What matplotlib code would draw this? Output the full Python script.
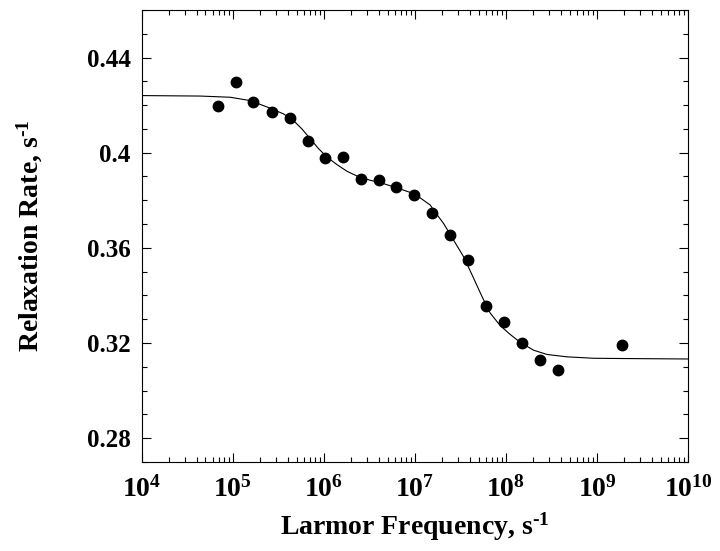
import matplotlib
matplotlib.use('Agg')
import matplotlib.pyplot as plt
from matplotlib.ticker import MultipleLocator, LogLocator, LogFormatterMathtext, FormatStrFormatter

plt.rcParams['font.family'] = 'Liberation Serif'
plt.rcParams['font.weight'] = 'bold'
plt.rcParams['mathtext.fontset'] = 'custom'
plt.rcParams['mathtext.rm'] = 'Liberation Serif:bold'
plt.rcParams['mathtext.it'] = 'Liberation Serif:bold'
plt.rcParams['mathtext.bf'] = 'Liberation Serif:bold'

# measured points
freq = [6.78e4, 1.09e5, 1.68e5, 2.66e5, 4.23e5, 6.67e5, 1.03e6, 1.62e6,
        2.55e6, 4.02e6, 6.23e6, 9.8e6, 1.55e7, 2.4e7, 3.82e7, 6.08e7,
        9.57e7, 1.5e8, 2.38e8, 3.76e8, 1.88e9]
rate = [0.4195, 0.4295, 0.4212, 0.4169, 0.4146, 0.4049, 0.3976, 0.3982,
        0.3890, 0.3885, 0.3855, 0.3823, 0.3745, 0.3654, 0.3549, 0.3354,
        0.3290, 0.3201, 0.3130, 0.3086, 0.3190]

# fitted curve (log10 of frequency)
fit_logf = [4.0, 4.64, 4.97, 5.19, 5.41, 5.556, 5.666, 5.758, 5.849, 5.941,
            6.033, 6.143, 6.253, 6.363, 6.509, 6.655, 6.802, 6.948, 7.058,
            7.168, 7.204, 7.314, 7.424, 7.534, 7.644, 7.736, 7.827, 7.937,
            8.047, 8.157, 8.303, 8.451, 8.67, 8.963, 9.256, 10.0]
fit_rate = [0.4240, 0.4238, 0.4233, 0.4219, 0.4187, 0.4163, 0.4135, 0.4100,
            0.4059, 0.4017, 0.3982, 0.3950, 0.3922, 0.3902, 0.3884, 0.3870,
            0.3852, 0.3833, 0.3810, 0.3780, 0.3759, 0.3703, 0.3633, 0.3563,
            0.3473, 0.3396, 0.3326, 0.3273, 0.3236, 0.3203, 0.3170, 0.3152,
            0.3142, 0.3136, 0.3135, 0.3133]
fit_f = [10 ** v for v in fit_logf]

fig = plt.figure(figsize=(7.2, 5.51), dpi=100)
ax = fig.add_axes([0.197, 0.1615, 0.7586, 0.8205])

ax.plot(fit_f, fit_rate, color='black', lw=0.8)
ax.plot(freq, rate, 'o', color='black', ms=7.5)

ax.set_xscale('log')
ax.set_xlim(1e4, 1e10)
ax.set_ylim(0.27, 0.46)

ax.xaxis.set_major_locator(LogLocator(base=10, numticks=10))
ax.xaxis.set_minor_locator(LogLocator(base=10, subs=range(2, 10), numticks=20))
ax.xaxis.set_major_formatter(LogFormatterMathtext())
ax.yaxis.set_major_locator(MultipleLocator(0.04))
ax.yaxis.set_minor_locator(MultipleLocator(0.01))
ax.yaxis.set_major_formatter(FormatStrFormatter('%g'))

ax.tick_params(which='both', direction='in', top=True, right=True, width=0.8)
ax.tick_params(which='major', length=6.5, labelsize=18, pad=8)
ax.tick_params(axis='x', which='major', labelsize=20, pad=10)
ax.tick_params(which='minor', length=3.5)
for s in ax.spines.values():
    s.set_linewidth(0.8)

ax.set_xlabel(r'Larmor Frequency, s$^{\text{-1}}$', fontsize=20, fontweight='bold', labelpad=6)
ax.set_ylabel(r'Relaxation Rate, s$^{\text{-1}}$', fontsize=20, fontweight='bold', labelpad=30)

fig.savefig('out.png', dpi=100)
